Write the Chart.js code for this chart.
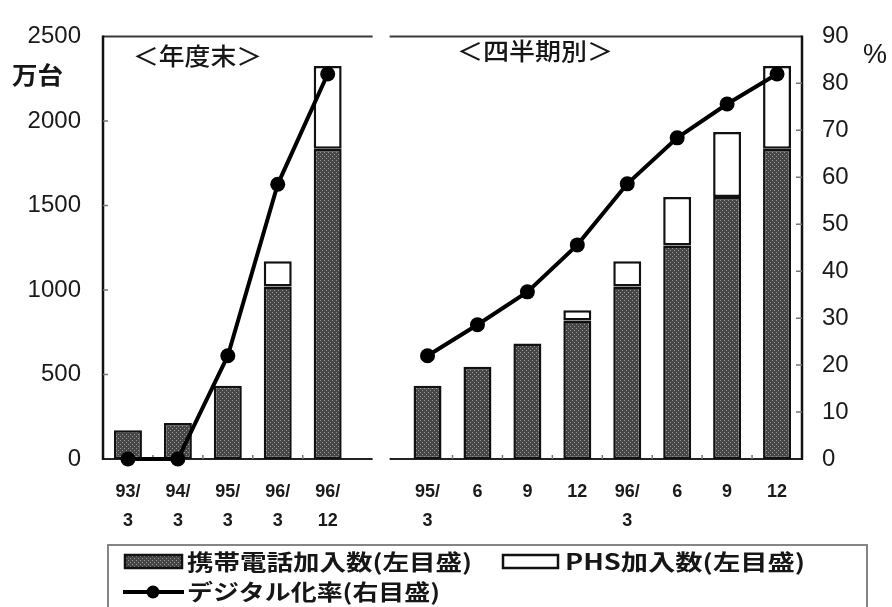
<!DOCTYPE html>
<html lang="ja">
<head>
<meta charset="utf-8">
<title>携帯電話・PHS加入数とデジタル化率</title>
<script src="https://cdn.jsdelivr.net/npm/chart.js@4.4.1/dist/chart.umd.min.js"></script>
<style>
  html, body { margin: 0; padding: 0; background: #fff; overflow: hidden; }
  #wrap { position: relative; width: 892px; height: 607px; }
  canvas { display: block; }
</style>
</head>
<body>
<div id="wrap"><canvas id="c" width="892" height="607"></canvas></div>
<script>
// Categories: fiscal-year ends (left group), an empty separator slot, then quarters (right group)
const categories = [
  ['93/', '3'], ['94/', '3'], ['95/', '3'], ['96/', '3'], ['96/', '12'],
  '',
  ['95/', '3'], '6', '9', '12', ['96/', '3'], '6', '9', '12'
];

// Subscribers, 万台 (left scale)
const mobileSubs = [170, 213, 433, 1020, 1835, null, 433, 546, 684, 820, 1020, 1263, 1550, 1835];
const phsSubs    = [null, null, null, 150, 490, null, null, null, null, 60, 150, 287, 384, 490];

// Digital share, % (right scale)
const digitalRate = [0, 0, 22, 58.5, 82, null, 22, 28.6, 35.6, 45.6, 58.6, 68.4, 75.6, 82];

// Axis ranges
const leftMax = 2500, leftStep = 500;
const rightMax = 90, rightStep = 10;

// Text
const seriesNames = ['携帯電話加入数(左目盛)', 'PHS加入数(左目盛)', 'デジタル化率(右目盛)'];
const panelTitles = ['＜年度末＞', '＜四半期別＞'];
const leftUnit = '万台';
const rightUnit = '%';

const canvas = document.getElementById('c');
const ctx = canvas.getContext('2d');

// Stippled dark fill used for the mobile bars
function makeStipple() {
  const t = document.createElement('canvas');
  t.width = 4; t.height = 4;
  const g = t.getContext('2d');
  g.fillStyle = '#464646';
  g.fillRect(0, 0, 4, 4);
  g.fillStyle = '#9a9a9a';
  g.fillRect(0, 0, 1, 1);
  g.fillRect(2, 2, 1, 1);
  return ctx.createPattern(t, 'repeat');
}
const stipple = makeStipple();

const CJK = '"Noto Sans CJK JP", "Noto Sans", sans-serif';
const LAT = '"Liberation Sans", Arial, sans-serif';

// Draws text squeezed/stretched horizontally to a given width
function fitText(c, text, x, y, width) {
  const w = c.measureText(text).width;
  c.save();
  c.translate(x, y);
  c.scale(width / w, 1);
  c.fillText(text, 0, 0);
  c.restore();
}

// Frame, inner tick marks, panel gap, titles and legend
const framePlugin = {
  id: 'frame',
  beforeDatasetsDraw(chart) {
    const { ctx: c, chartArea: a, scales } = chart;
    const xs = scales.x, ys = scales.y, y1 = scales.y1;
    const gc = xs.getPixelForValue(5);
    const gapL = gc - 5, gapR = gc + 12;
    c.save();
    // top border
    c.strokeStyle = '#3a3a3a';
    c.lineWidth = 2;
    c.beginPath();
    c.moveTo(a.left, a.top); c.lineTo(gapL, a.top);
    c.moveTo(gapR, a.top); c.lineTo(a.right, a.top);
    c.stroke();
    // baseline
    c.strokeStyle = '#222';
    c.lineWidth = 2;
    c.beginPath();
    c.moveTo(a.left, a.bottom); c.lineTo(gapL, a.bottom);
    c.moveTo(gapR, a.bottom); c.lineTo(a.right, a.bottom);
    c.stroke();
    // side axes
    c.strokeStyle = '#111';
    c.lineWidth = 2.5;
    c.beginPath();
    c.moveTo(a.left, a.top - 1); c.lineTo(a.left, a.bottom + 1);
    c.moveTo(a.right, a.top - 1); c.lineTo(a.right, a.bottom + 1);
    c.stroke();
    // inner ticks
    c.strokeStyle = '#777';
    c.lineWidth = 1.5;
    c.beginPath();
    for (let v = leftStep; v < leftMax; v += leftStep) {
      const p = ys.getPixelForValue(v);
      c.moveTo(a.left, p); c.lineTo(a.left + 5, p);
    }
    for (let v = rightStep; v < rightMax; v += rightStep) {
      const p = y1.getPixelForValue(v);
      c.moveTo(a.right, p); c.lineTo(a.right - 6, p);
    }
    for (let i = 1; i < categories.length; i++) {
      if (i === 5 || i === 6) continue;
      const p = (xs.getPixelForValue(i - 1) + xs.getPixelForValue(i)) / 2;
      c.moveTo(p, a.bottom); c.lineTo(p, a.bottom - 4);
    }
    c.stroke();
    c.restore();
  },
  afterDraw(chart) {
    const c = chart.ctx;
    c.save();
    c.fillStyle = '#161616';
    c.textBaseline = 'middle';
    c.textAlign = 'left';

    // panel titles
    c.font = '500 24px ' + CJK;
    fitText(c, panelTitles[0], 133, 56, 129);
    fitText(c, panelTitles[1], 457, 51, 156);

    // units
    c.font = 'bold 24px ' + CJK;
    fitText(c, leftUnit, 12, 75, 51);
    c.font = '27px ' + LAT;
    c.fillText(rightUnit, 863, 56);

    // legend box
    c.strokeStyle = '#858585';
    c.lineWidth = 2;
    c.strokeRect(108, 545, 759, 75);

    // row 1: mobile swatch
    c.fillStyle = stipple;
    c.fillRect(125, 555, 57, 13);
    c.strokeStyle = '#111';
    c.lineWidth = 2.5;
    c.strokeRect(125, 555, 57, 13);
    // row 1: PHS swatch
    c.fillStyle = '#fff';
    c.fillRect(503, 555, 55, 13);
    c.strokeRect(503, 555, 55, 13);
    // row 2: line swatch
    c.strokeStyle = '#000';
    c.lineWidth = 4;
    c.beginPath();
    c.moveTo(123, 592); c.lineTo(184, 592);
    c.stroke();
    c.fillStyle = '#000';
    c.beginPath();
    c.arc(153, 592, 6.5, 0, Math.PI * 2);
    c.fill();

    c.fillStyle = '#161616';
    c.font = 'bold 22px ' + CJK;
    fitText(c, seriesNames[0], 187, 562, 285);
    fitText(c, seriesNames[1], 565, 562, 240);
    fitText(c, seriesNames[2], 187, 592, 253);
    c.restore();
  }
};

const tickFont = { family: LAT, size: 24 };

new Chart(ctx, {
  type: 'bar',
  data: {
    labels: categories,
    datasets: [
      {
        type: 'line',
        label: seriesNames[2],
        data: digitalRate,
        yAxisID: 'y1',
        borderColor: '#000',
        borderWidth: 4,
        pointRadius: 7.5,
        pointBackgroundColor: '#000',
        pointBorderColor: '#000',
        pointBorderWidth: 0,
        tension: 0,
        spanGaps: false,
        clip: false,
        order: 0
      },
      {
        label: seriesNames[0],
        data: mobileSubs,
        yAxisID: 'y',
        stack: 'subs',
        backgroundColor: stipple,
        borderColor: '#111',
        borderWidth: 2.5,
        borderSkipped: false,
        barPercentage: 0.56,
        categoryPercentage: 1,
        order: 1
      },
      {
        label: seriesNames[1],
        data: phsSubs,
        yAxisID: 'y',
        stack: 'subs',
        backgroundColor: '#fff',
        borderColor: '#111',
        borderWidth: 2.5,
        borderSkipped: false,
        barPercentage: 0.56,
        categoryPercentage: 1,
        order: 1
      }
    ]
  },
  options: {
    responsive: false,
    animation: false,
    devicePixelRatio: 1,
    layout: { padding: { top: 23, left: 0, right: 0, bottom: 0 } },
    plugins: {
      legend: { display: false },
      tooltip: { enabled: false }
    },
    scales: {
      x: {
        stacked: true,
        offset: true,
        grid: { display: false, drawTicks: false },
        border: { display: false },
        ticks: {
          autoSkip: false,
          maxRotation: 0,
          padding: 19,
          color: '#1a1a1a',
          font: { family: LAT, size: 18, weight: 'bold', lineHeight: 1.6 }
        },
        afterFit(s) { s.height = 148; }
      },
      y: {
        position: 'left',
        stacked: true,
        min: 0,
        max: leftMax,
        grid: { display: false, drawTicks: false },
        border: { display: false },
        ticks: {
          stepSize: leftStep,
          padding: 22,
          color: '#1a1a1a',
          font: tickFont,
          callback: v => String(v)
        },
        afterFit(s) { s.width = 103; }
      },
      y1: {
        position: 'right',
        min: 0,
        max: rightMax,
        grid: { display: false, drawTicks: false },
        border: { display: false },
        ticks: {
          stepSize: rightStep,
          padding: 20,
          color: '#1a1a1a',
          font: tickFont,
          callback: v => String(v)
        },
        afterFit(s) { s.width = 90; }
      }
    }
  },
  plugins: [framePlugin]
});
</script>
</body>
</html>
